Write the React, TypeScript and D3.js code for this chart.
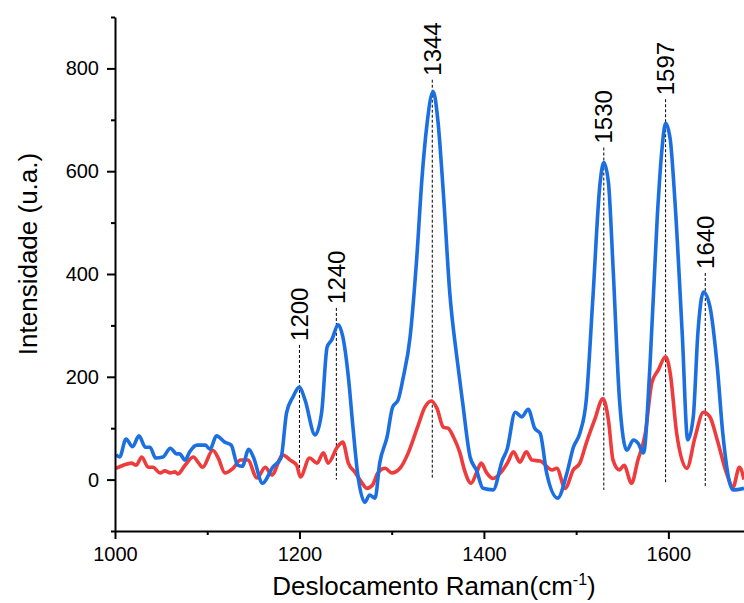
import React, { useEffect, useRef } from 'react';
import * as d3 from 'd3';

// Raman shift (cm-1) and intensity (u.a.)
const blueShift = [1001, 1005, 1012, 1019, 1026, 1033, 1038, 1044, 1052, 1060, 1067, 1070, 1076, 1081, 1089, 1098, 1103, 1110, 1119, 1126, 1133, 1138, 1145, 1150, 1160, 1171, 1180, 1186, 1193, 1200, 1206, 1217, 1224, 1230, 1235, 1242, 1247, 1253, 1258, 1263, 1271, 1276, 1282, 1287, 1295, 1301, 1307, 1312, 1320, 1327, 1333, 1338, 1345, 1350, 1356, 1363, 1371, 1377, 1385, 1392, 1399, 1410, 1420, 1425, 1434, 1441, 1448, 1455, 1461, 1468, 1480, 1490, 1497, 1504, 1511, 1518, 1526, 1530, 1535, 1540, 1547, 1555, 1562, 1567, 1573, 1580, 1588, 1593, 1597, 1602, 1607, 1615, 1621, 1627, 1632, 1638, 1645, 1653, 1659, 1670, 1682];
const blueIntensity = [48, 44, 79, 64, 85, 63, 63, 42, 44, 61, 50, 50, 38, 54, 67, 67, 59, 85, 73, 67, 28, 26, 59, 44, -7, 24, 42, 130, 161, 180, 155, 87, 130, 258, 272, 301, 278, 200, 102, 13, -44, -30, -36, 32, 83, 141, 155, 194, 278, 427, 590, 687, 755, 700, 558, 363, 233, 149, 44, 18, -17, -20, 38, 58, 131, 122, 137, 100, 90, 13, -36, 13, 63, 90, 155, 349, 578, 617, 578, 414, 155, 57, 77, 71, 52, 220, 512, 642, 693, 662, 545, 285, 77, 122, 285, 365, 337, 220, 90, -20, -17];

const redShift = [1001, 1009, 1018, 1023, 1029, 1036, 1041, 1049, 1054, 1060, 1065, 1068, 1076, 1085, 1090, 1095, 1106, 1112, 1119, 1128, 1136, 1144, 1154, 1163, 1170, 1182, 1190, 1197, 1201, 1211, 1219, 1226, 1231, 1241, 1247, 1253, 1260, 1268, 1273, 1279, 1285, 1293, 1300, 1309, 1318, 1328, 1336, 1343, 1349, 1356, 1361, 1367, 1374, 1379, 1386, 1392, 1397, 1403, 1410, 1419, 1426, 1432, 1439, 1446, 1452, 1461, 1474, 1479, 1488, 1497, 1504, 1511, 1520, 1529, 1535, 1540, 1547, 1552, 1560, 1567, 1575, 1582, 1589, 1597, 1602, 1609, 1620, 1629, 1638, 1645, 1653, 1663, 1670, 1677, 1682];
const redIntensity = [22, 28, 32, 28, 44, 24, 24, 13, 17, 13, 15, 11, 28, 44, 34, 24, 57, 42, 13, 22, 38, 38, 3, 24, 9, 48, 38, 28, 5, 42, 32, 52, 32, 63, 73, 32, 15, -7, -17, -11, 13, 22, 13, 22, 52, 102, 141, 153, 139, 102, 100, 83, 52, 18, -7, 13, 32, 13, 2, 15, 34, 54, 34, 54, 38, 36, 19, 22, -17, 19, 32, 71, 116, 157, 116, 38, 19, 28, -7, 38, 90, 188, 213, 239, 207, 90, 22, 83, 131, 122, 77, 13, -15, 24, 0];

// marked peaks: position, top and bottom of the dashed guide
const peakLabels = ['1200', '1240', '1344', '1530', '1597', '1640'];
const peakShift = [1200, 1240, 1344, 1530, 1597, 1640];
const peakTop = [262, 334, 778, 646, 740, 402];
const peakBottom = [5, 0, 3, -20, -5, -14];

const xMajor = [1000, 1200, 1400, 1600];
const xMinor = [1100, 1300, 1500];
const yMajor = [0, 200, 400, 600, 800];
const yMinor = [-100, 100, 300, 500, 700, 900];

const FONT = '"Liberation Sans", Arial, sans-serif';

const App: React.FC = () => {
  const svgRef = useRef<SVGSVGElement>(null);

  useEffect(() => {
    if (!svgRef.current) return;
    const svg = d3.select(svgRef.current);
    svg.selectAll('*').remove();

    const x = d3.scaleLinear().domain([1000, 1682]).range([115, 744]);
    const y = d3.scaleLinear().domain([-100, 900]).range([531, 17]);

    // dashed guides at the peaks
    const peaks = peakShift.map((p, i) => ({ p, top: peakTop[i], bottom: peakBottom[i], label: peakLabels[i] }));
    svg.append('g')
      .selectAll('line')
      .data(peaks)
      .enter()
      .append('line')
      .attr('x1', d => x(d.p))
      .attr('x2', d => x(d.p))
      .attr('y1', d => y(d.top))
      .attr('y2', d => y(d.bottom))
      .attr('stroke', '#000')
      .attr('stroke-width', 1)
      .attr('stroke-dasharray', '3,2');

    // spectra
    const line = d3.line<[number, number]>()
      .x(d => x(d[0]))
      .y(d => y(d[1]))
      .curve(d3.curveMonotoneX);

    const series = [
      { shift: redShift, values: redIntensity, color: '#ee3b3b' },
      { shift: blueShift, values: blueIntensity, color: '#1c6fe0' },
    ];
    series.forEach(s => {
      const pts = s.shift.map((v, i) => [v, s.values[i]] as [number, number]);
      svg.append('path')
        .attr('d', line(pts) || '')
        .attr('fill', 'none')
        .attr('stroke', s.color)
        .attr('stroke-width', 3.6)
        .attr('stroke-linejoin', 'round');
    });

    // peak labels
    svg.append('g')
      .selectAll('text')
      .data(peaks)
      .enter()
      .append('text')
      .attr('transform', d => `translate(${x(d.p)},${y(d.top) - 4}) rotate(-90)`)
      .attr('dy', '0.35em')
      .attr('text-anchor', 'start')
      .style('font-family', FONT)
      .style('font-size', '24px')
      .text(d => d.label);

    // y axis
    const yAxis = svg.append('g').attr('transform', 'translate(115,0)');
    yAxis.call(d3.axisLeft(y).tickValues(yMinor).tickSize(4).tickSizeOuter(0).tickFormat(() => ''));
    yAxis.call(g => g.select('.domain').attr('stroke-width', 2));
    const yMaj = svg.append('g').attr('transform', 'translate(115,0)');
    yMaj.call(d3.axisLeft(y).tickValues(yMajor).tickSize(8).tickPadding(8).tickSizeOuter(0));
    yMaj.select('.domain').remove();

    // x axis
    const xAxis = svg.append('g').attr('transform', 'translate(0,531)');
    xAxis.call(d3.axisBottom(x).tickValues(xMinor).tickSize(4).tickSizeOuter(0).tickFormat(() => ''));
    xAxis.select('.domain').attr('stroke-width', 2);
    const xMaj = svg.append('g').attr('transform', 'translate(0,531)');
    xMaj.call(d3.axisBottom(x).tickValues(xMajor).tickSize(8).tickPadding(8).tickSizeOuter(0).tickFormat(d3.format('d')));
    xMaj.select('.domain').remove();

    svg.selectAll('.tick line').attr('stroke-width', 2);
    svg.selectAll('.tick text')
      .style('font-family', FONT)
      .style('font-size', '20px')
      .attr('fill', '#000');

    // axis titles
    svg.append('text')
      .attr('transform', 'translate(37,254) rotate(-90)')
      .attr('text-anchor', 'middle')
      .style('font-family', FONT)
      .style('font-size', '26px')
      .text('Intensidade (u.a.)');

    const xt = svg.append('text')
      .attr('x', 434)
      .attr('y', 595)
      .attr('text-anchor', 'middle')
      .style('font-family', FONT)
      .style('font-size', '26px');
    xt.append('tspan').text('Deslocamento Raman(cm');
    xt.append('tspan').attr('dy', -10).style('font-size', '16px').text('-1');
    xt.append('tspan').attr('dy', 10).text(')');
  }, []);

  return (
    <svg
      ref={svgRef}
      width={744}
      height={603}
      style={{ position: 'absolute', left: 0, top: 0, background: '#fff' }}
    />
  );
};

export default App;
